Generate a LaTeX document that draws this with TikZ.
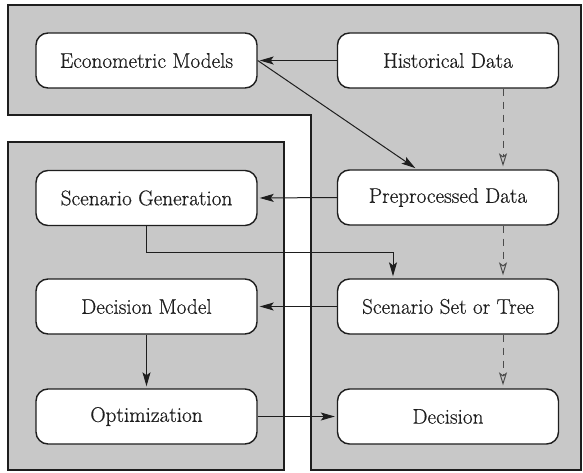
\documentclass[tikz,border=0pt]{standalone}
\usepackage{fontspec}
\newfontfamily\heavyfont{Latin Modern Roman}[FakeBold=0.5]
\usetikzlibrary{arrows.meta,calc}
\definecolor{panel}{RGB}{200,200,200}
\definecolor{ink}{RGB}{30,30,30}
\begin{document}
\begin{tikzpicture}[x=1pt,y=-1pt,
  box/.style={draw=ink,fill=white,line width=1.4pt,rounded corners=12pt,
    minimum width=221pt,minimum height=55pt,inner sep=0pt,text=ink,
    font=\heavyfont\fontsize{21.2}{25}\selectfont},
  arr/.style={draw=ink,line width=1pt,-{Stealth[length=14pt,width=8pt,inset=3pt]},shorten >=2pt},
  dasharr/.style={draw=ink!80,line width=1pt,dash pattern=on 7pt off 6pt,
    -{Stealth[open,length=13pt,width=8pt,inset=3pt]},shorten >=3pt},
  panelstyle/.style={fill=panel,draw=ink,line width=1.5pt}]
\useasboundingbox (0,0) rectangle (583,473);
\fill[white] (0,0) rectangle (583,473);
% panels
\draw[panelstyle] (8,5) -- (581,5) -- (581,470) -- (311,470) -- (311,115) -- (8,115) -- cycle;
\draw[panelstyle] (8,142) rectangle (284,470);
% nodes
\node[box] (econ) at (146.5,60.5) {Econometric Models};
\node[box] (hist) at (448,60.5) {Historical Data};
\node[box] (prep) at (448,197.5) {Preprocessed Data};
\node[box] (scen) at (146.5,198) {Scenario Generation};
\node[box] (sset) at (448,306.5) {Scenario Set or Tree};
\node[box] (dmod) at (146.5,306.5) {Decision Model};
\node[box] (dec) at (448,416.5) {Decision};
\node[box] (opt) at (146.5,416.5) {Optimization};
% connectors
\draw[arr] (hist.west) -- (econ.east);
\draw[arr] (econ.east) -- ([xshift=-31pt]prep.north);
\draw[arr] (prep.west) -- (scen.east);
\draw[arr] (scen.south) -- ++(0,26) -| ([xshift=-55pt]sset.north);
\draw[arr] (sset.west) -- (dmod.east);
\draw[arr] (dmod.south) -- (opt.north);
\draw[arr] (opt.east) -- (dec.west);
\draw[dasharr] ([xshift=55pt]hist.south) -- ([xshift=55pt]prep.north);
\draw[dasharr] ([xshift=55pt]prep.south) -- ([xshift=55pt]sset.north);
\draw[dasharr] ([xshift=55pt]sset.south) -- ([xshift=55pt]dec.north);
\end{tikzpicture}
\end{document}
